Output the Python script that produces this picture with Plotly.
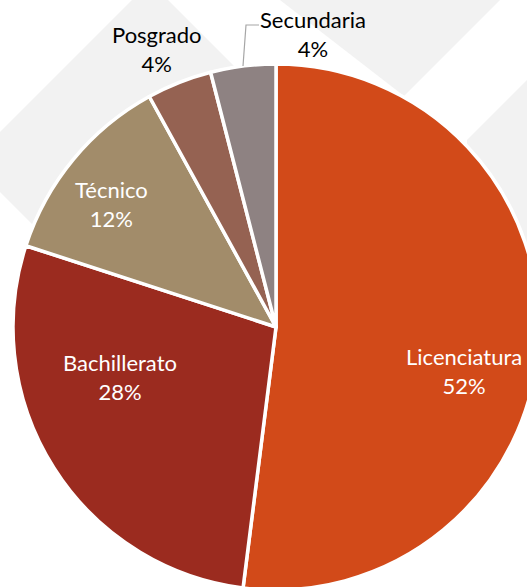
import plotly.graph_objects as go

categories = ["Licenciatura", "Bachillerato", "Técnico", "Posgrado", "Secundaria"]
values = [52, 28, 12, 4, 4]
colors = ["#D24A19", "#9B2B1F", "#A28C6A", "#956252", "#8E8282"]

W, H = 540, 591

def px(x):
    return x / W

def py(y):
    return 1 - y / H

# pie placement (pixels): center (276, 327), radius 263
cx, cy, r = 276, 327, 263

fig = go.Figure()
fig.add_trace(go.Pie(
    labels=categories,
    values=values,
    sort=False,
    direction="clockwise",
    rotation=0,
    marker=dict(colors=colors, line=dict(color="white", width=3.5)),
    textinfo="none",
    hoverinfo="label+percent",
    showlegend=False,
    domain=dict(x=[px(cx - r), px(cx + r)], y=[py(cy + r), py(cy - r)]),
))

def poly(points):
    d = "M " + " L ".join(f"{px(x):.5f},{py(y):.5f}" for x, y in points) + " Z"
    return d

bg = "#F2F2F2"
shapes = [
    dict(type="path", xref="paper", yref="paper", layer="below", line=dict(width=0), fillcolor=bg,
         path=poly([(132, 0), (168, 0), (330, 162), (150, 342), (0, 192), (0, 132)])),
    dict(type="path", xref="paper", yref="paper", layer="below", line=dict(width=0), fillcolor=bg,
         path=poly([(280, 0), (500, 0), (404, 96)])),
    dict(type="path", xref="paper", yref="paper", layer="below", line=dict(width=0), fillcolor=bg,
         path=poly([(467, 140), (540, 67), (540, 320), (470, 250)])),
    dict(type="path", xref="paper", yref="paper", layer="above", line=dict(width=1.2, color="#A6A6A6"),
         path=f"M {px(243):.5f},{py(66):.5f} L {px(246):.5f},{py(25):.5f} L {px(259):.5f},{py(25):.5f}"),
]

label_pos = {
    "Licenciatura": (464, 371, "white"),
    "Bachillerato": (120, 377, "white"),
    "Técnico": (111, 204, "white"),
    "Posgrado": (157, 49, "#000000"),
    "Secundaria": (313, 34, "#000000"),
}
total = sum(values)
annotations = []
for cat, v in zip(categories, values):
    x, y, col = label_pos[cat]
    annotations.append(dict(
        x=px(x), y=py(y), xref="paper", yref="paper", xanchor="center", yanchor="middle",
        text=f"{cat}<br>{round(100 * v / total)}%", showarrow=False, align="center",
        font=dict(family="Lato", size=22, color=col),
    ))

fig.update_layout(
    width=W, height=H,
    margin=dict(l=0, r=0, t=0, b=0),
    paper_bgcolor="white",
    plot_bgcolor="white",
    shapes=shapes,
    annotations=annotations,
)

fig.write_html(
    "out.html",
    config={"displayModeBar": False},
    post_script="document.body.style.margin='0';document.body.style.overflow='hidden';"
                "document.documentElement.style.overflow='hidden';",
)
